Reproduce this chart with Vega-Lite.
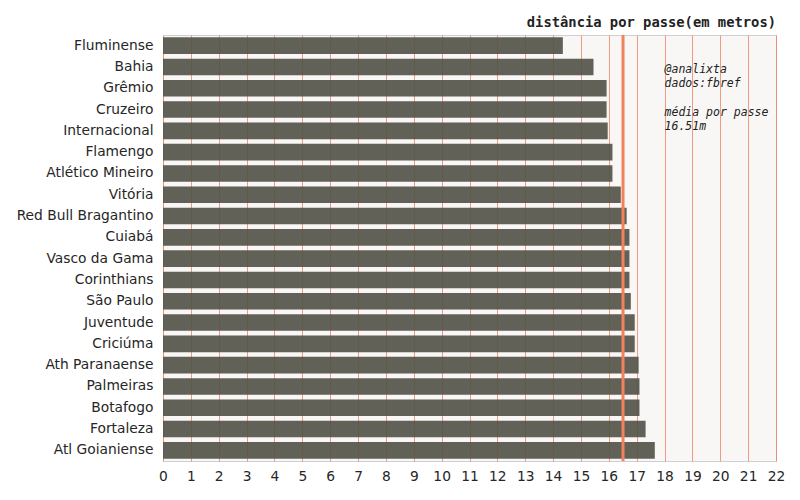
{
  "$schema": "https://vega.github.io/schema/vega-lite/v6.json",
  "width": 613,
  "height": 426,
  "autosize": {"type": "none"},
  "padding": {"left": 163, "top": 35, "right": 24, "bottom": 39},
  "background": "white",
  "config": {
    "view": {"stroke": "#cfcfcf", "strokeWidth": 1, "fill": "#f8f7f5"},
    "font": "DejaVu Sans"
  },
  "title": {
    "text": "distância por passe(em metros)",
    "anchor": "end",
    "frame": "group",
    "font": "DejaVu Sans Mono",
    "fontSize": 13.8,
    "fontWeight": "bold",
    "color": "#222222",
    "offset": 4
  },
  "datasets": {
    "teams": [
      {"team": "Fluminense", "dist": 14.35},
      {"team": "Bahia", "dist": 15.45},
      {"team": "Grêmio", "dist": 15.92},
      {"team": "Cruzeiro", "dist": 15.92},
      {"team": "Internacional", "dist": 15.96},
      {"team": "Flamengo", "dist": 16.13},
      {"team": "Atlético Mineiro", "dist": 16.13},
      {"team": "Vitória", "dist": 16.43},
      {"team": "Red Bull Bragantino", "dist": 16.64},
      {"team": "Cuiabá", "dist": 16.74},
      {"team": "Vasco da Gama", "dist": 16.74},
      {"team": "Corinthians", "dist": 16.74},
      {"team": "São Paulo", "dist": 16.79},
      {"team": "Juventude", "dist": 16.93},
      {"team": "Criciúma", "dist": 16.93},
      {"team": "Ath Paranaense", "dist": 17.07},
      {"team": "Palmeiras", "dist": 17.1},
      {"team": "Botafogo", "dist": 17.1},
      {"team": "Fortaleza", "dist": 17.32},
      {"team": "Atl Goianiense", "dist": 17.65}
    ],
    "mean": [{"mean": 16.51}],
    "note": [
      {"team": "Bahia", "x": 18, "label": ["@analixta", "dados:fbref"]},
      {"team": "Cruzeiro", "x": 18, "label": ["média por passe", "16.51m"]}
    ]
  },
  "layer": [
    {
      "data": {"name": "teams"},
      "mark": {"type": "bar", "color": "#55554a", "opacity": 0.93},
      "encoding": {
        "y": {
          "field": "team",
          "type": "nominal",
          "sort": ["Fluminense", "Bahia", "Grêmio", "Cruzeiro", "Internacional", "Flamengo", "Atlético Mineiro", "Vitória", "Red Bull Bragantino", "Cuiabá", "Vasco da Gama", "Corinthians", "São Paulo", "Juventude", "Criciúma", "Ath Paranaense", "Palmeiras", "Botafogo", "Fortaleza", "Atl Goianiense"],
          "scale": {"paddingInner": 0.22, "paddingOuter": 0.11},
          "axis": {
            "title": null,
            "ticks": false,
            "domain": false,
            "grid": false,
            "labelFont": "DejaVu Sans",
            "labelFontSize": 13.8,
            "labelColor": "#262626",
            "labelPadding": 10
          }
        },
        "x": {
          "field": "dist",
          "type": "quantitative",
          "scale": {"domain": [0, 22], "nice": false},
          "axis": {
            "title": null,
            "tickCount": 22,
            "ticks": false,
            "domain": false,
            "grid": true,
            "gridColor": "#ee7a5c",
            "gridOpacity": 0.75,
            "gridWidth": 1,
            "labelFont": "DejaVu Sans",
            "labelFontSize": 13.8,
            "labelColor": "#262626",
            "labelPadding": 8,
            "labelFlush": false,
            "labelOverlap": false
          }
        }
      }
    },
    {
      "data": {"name": "mean"},
      "mark": {"type": "rule", "color": "#f2825e", "strokeWidth": 3},
      "encoding": {
        "x": {"field": "mean", "type": "quantitative"}
      }
    },
    {
      "data": {"name": "note"},
      "mark": {
        "type": "text",
        "font": "DejaVu Sans Mono",
        "fontStyle": "italic",
        "fontSize": 11.5,
        "color": "#222222",
        "align": "left",
        "baseline": "top",
        "lineHeight": 14,
        "dy": -3
      },
      "encoding": {
        "x": {"field": "x", "type": "quantitative"},
        "y": {"field": "team", "type": "nominal", "sort": ["Fluminense", "Bahia", "Grêmio", "Cruzeiro", "Internacional", "Flamengo", "Atlético Mineiro", "Vitória", "Red Bull Bragantino", "Cuiabá", "Vasco da Gama", "Corinthians", "São Paulo", "Juventude", "Criciúma", "Ath Paranaense", "Palmeiras", "Botafogo", "Fortaleza", "Atl Goianiense"]},
        "text": {"field": "label"}
      }
    }
  ]
}
